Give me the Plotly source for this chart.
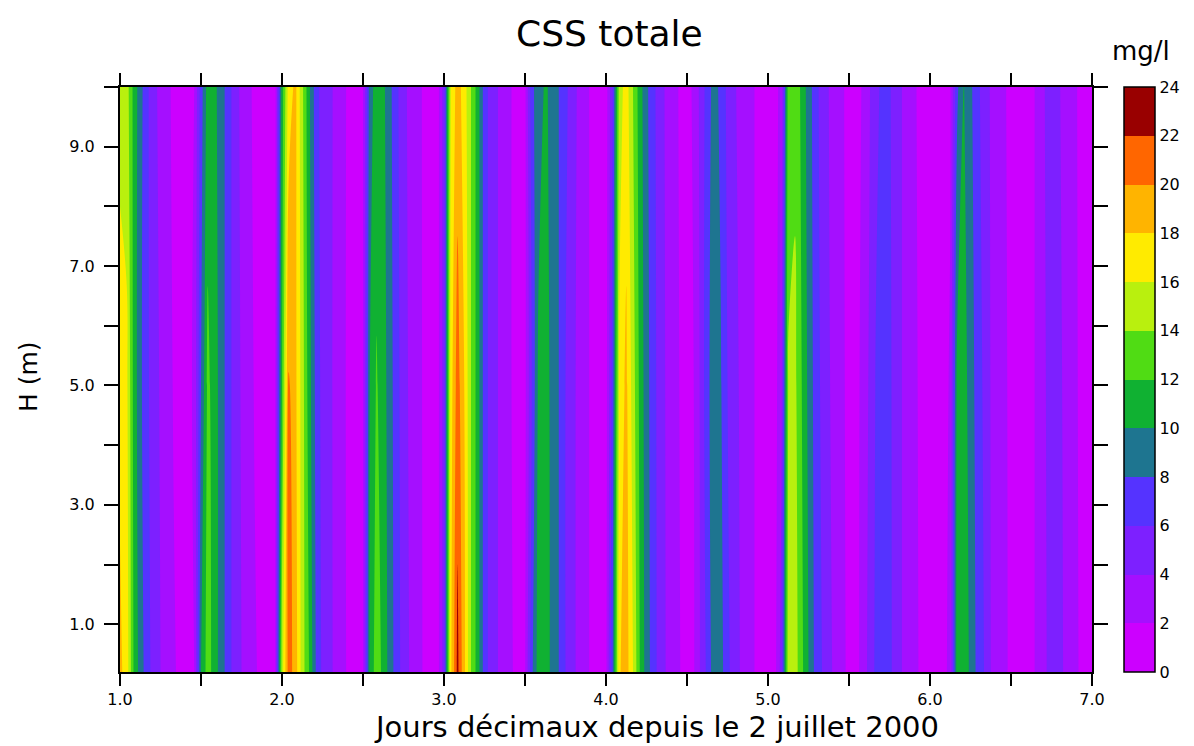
import plotly.graph_objects as go

# ---- data -------------------------------------------------------------
# hourly samples, decimal days since 2 July 2000
hours = list(range(145))
time_days = [1 + h / 24 for h in hours]
depth_m = [0.2, 5.0, 10.0]

css_bottom = (
    [18.4, 17.2, 12, 9, 7, 5, 4, 3, 2.2, 1.5, 1, 2, 10, 13, 11, 9, 7, 5, 4, 3,
     2.2, 1.5, 1, 2, 15, 21, 19, 15, 12, 8, 5.5, 4.5, 3.5, 2.5, 1.5, 1, 1.8]
    + [10.5, 13, 11.5, 9, 7, 5, 3.8, 2.8, 1.8, 1, 1, 5, 17.5, 22.6, 18.5, 14, 11, 7,
       5, 4, 3, 2.2, 1.2, 1.8, 7.5, 11, 11, 9.5, 8, 6, 4.5, 3.5, 2.5, 1.5, 1, 1.5]
    + [8, 17.8, 19, 16, 12, 9, 7, 5, 3.8, 2.7, 2, 1, 1.8, 4.2, 6.5, 9.2, 8.8, 6.5,
       5, 3.8, 2.8, 2, 1.5, 1, 1.2, 5, 15, 15, 12.5, 10, 7.5, 6, 4.5, 3.5, 2.5, 1.5]
    + [1, 3, 4.5, 6.5, 7, 6.5, 5, 3.8, 2.8, 2.2, 1.5, 1, 1, 1.5, 2.5, 11, 11.5, 9.5,
       7.5, 6, 4, 3.2, 2.5, 1.5, 1.2, 1, 1.5, 2.5, 3.8, 4.5, 4.5, 3.8, 2.8, 2, 1.5, 1]
)
css_mid = (
    [17.5, 16.5, 11.5, 8.5, 6.5, 4.8, 3.8, 2.8, 1.8, 1.2, 1, 2.5, 8, 12.5, 11, 9, 7, 5,
     3.8, 2.8, 1.8, 1.2, 1, 1.8, 12, 20.3, 18.5, 15, 11, 7.5, 5.2, 4.5, 3.4, 2.4, 1.5, 1, 1.8]
    + [10, 12.2, 11, 8.8, 6.8, 4.8, 3.6, 2.6, 1.8, 1, 1, 5, 17, 21, 18, 14, 11, 7,
       5, 4, 3, 2, 1.2, 1.5, 6, 10.5, 10.8, 9.5, 8, 6, 4.5, 3.5, 2.5, 1.5, 1, 1.2]
    + [7, 16.5, 18.5, 15, 11.5, 8.8, 6.8, 5, 3.7, 2.6, 1.9, 1, 2, 4.3, 7.5, 9, 8.2, 6,
       4.6, 3.7, 2.7, 2, 1.5, 1, 1.2, 3.5, 14.2, 14.5, 12, 9.5, 7.2, 5.5, 4.2, 3.2, 2.3, 1.5]
    + [1, 2.8, 4.2, 6.2, 6.8, 6.4, 5, 3.8, 2.8, 2.1, 1.5, 1, 1, 1.4, 2.2, 10.5, 11, 9,
       7.2, 5.6, 3.9, 3.1, 2.4, 1.5, 1.2, 1, 1.5, 2.5, 3.9, 4.5, 4.4, 3.7, 2.8, 1.9, 1.4, 1]
)
css_top = (
    [15, 15, 11.5, 8.8, 6.5, 4.5, 3.5, 2.5, 1.5, 1, 1, 2, 7, 11, 10.5, 9, 7, 5, 3.5,
     2.5, 1.5, 1, 1, 1.5, 11, 17, 18.5, 14.5, 10.5, 7, 5, 4.5, 3.5, 2.5, 1.5, 1, 2]
    + [9, 11, 10.5, 8.5, 6.5, 4.5, 3.5, 2.5, 1.8, 1, 1, 5, 16, 19, 17, 14, 11, 7,
       5, 4, 3, 2, 1, 1.5, 7.5, 9, 10.3, 9.5, 8, 6.5, 5, 3.5, 2.5, 1.5, 1, 1]
    + [6, 15, 17, 14, 11, 8.5, 6.5, 5, 3.5, 2.5, 1.8, 1, 2.5, 4.5, 7, 8.8, 7.5, 5.5,
       4.2, 3.5, 2.5, 2, 1.5, 1, 1.5, 2.5, 13, 13.5, 11.5, 9, 7, 5, 4, 3, 2.2, 1.5]
    + [1, 2.2, 3.8, 5.5, 6.5, 6.2, 5, 3.8, 2.8, 2, 1.5, 1, 1, 1.2, 1.8, 7.5, 10.1, 8.5,
       6.5, 5.2, 3.8, 3, 2.2, 1.5, 1.2, 1, 1.5, 2.5, 4, 4.5, 4.2, 3.5, 2.8, 1.8, 1.2, 1]
)
assert len(css_bottom) == len(css_mid) == len(css_top) == len(time_days)

level_colors = ["#CC00FF", "#A50FFF", "#7D20FF", "#5533FF", "#1E7590", "#10B132",
                "#50DC14", "#B9F00E", "#FFEB00", "#FFB400", "#FF6600", "#990000"]
cbar_ticks = list(range(0, 26, 2))
x_tickvals = [1 + 0.5 * i for i in range(13)]
x_ticktext = [f"{v:.1f}" if v == int(v) else "" for v in x_tickvals]
y_tickvals = list(range(1, 11))
y_ticktext = [f"{v:.1f}" if v % 2 == 1 else "" for v in y_tickvals]

# ---- figure -----------------------------------------------------------
n = len(level_colors)
colorscale = []
for i, c in enumerate(level_colors):
    colorscale.append([i / n, c])
    colorscale.append([(i + 1) / n, c])

# page body has an 8px margin, so the figure is shrunk/shifted accordingly
OFF = 8
W, H = 1194 - OFF, 746 - OFF
P_L, P_R, P_T, P_B = 120, 1092, 87, 672          # plot frame in screen pixels
pw, ph = P_R - P_L, P_B - P_T
ML, MT = P_L - OFF, P_T - OFF
MR, MB = W - ML - pw, H - MT - ph


def px(x):
    return (x - P_L) / pw


def py(y):
    return (P_B - y) / ph


cb_left, cb_right = 1124, 1155
cbx0, cbx1 = px(cb_left), px(cb_right)

tickfont = dict(family="DejaVu Sans", size=16, color="black")

fig = go.Figure(go.Contour(
    x=time_days, y=depth_m, z=[css_bottom, css_mid, css_top],
    colorscale=colorscale, zmin=0, zmax=24,
    autocontour=False,
    contours=dict(start=0, end=24, size=2, coloring="fill", showlines=False),
    line=dict(width=0),
    colorbar=dict(
        x=cbx0, xanchor="left", xpad=0, y=0, yanchor="bottom", ypad=0,
        len=1, lenmode="fraction", thickness=cb_right - cb_left, thicknessmode="pixels",
        outlinecolor="black", outlinewidth=1.5,
        tickvals=cbar_ticks, ticktext=[str(v) for v in cbar_ticks],
        ticks="", tickfont=tickfont,
    ),
    hoverinfo="x+y+z",
))

axis_common = dict(
    showline=True, linecolor="black", linewidth=2, mirror="ticks",
    ticks="outside", tickwidth=1.5, tickcolor="black",
    showgrid=False, zeroline=False, tickfont=tickfont,
)
fig.update_xaxes(range=[1, 7], tickmode="array", tickvals=x_tickvals,
                 ticktext=x_ticktext, ticklen=12, ticklabelstandoff=0, **axis_common)
fig.update_yaxes(range=[0.2, 10], tickmode="array", tickvals=y_tickvals,
                 ticktext=y_ticktext, ticklen=14, ticklabelstandoff=6, **axis_common)

shapes = []
for k in range(1, n):
    shapes.append(dict(type="line", xref="paper", yref="paper",
                       x0=cbx0, x1=cbx1, y0=k / n, y1=k / n,
                       line=dict(color="black", width=1.2)))

fig.update_layout(
    width=W, height=H,
    margin=dict(l=ML, r=MR, t=MT, b=MB, autoexpand=False),
    paper_bgcolor="white", plot_bgcolor="white",
    shapes=shapes,
    font=dict(family="DejaVu Sans", color="black"),
    annotations=[
        dict(text="CSS totale", xref="paper", yref="paper", x=px(609), y=py(33),
             xanchor="center", yanchor="middle", showarrow=False, font=dict(size=36)),
        dict(text="Jours décimaux depuis le 2 juillet 2000", xref="paper", yref="paper",
             x=px(656), y=py(727), xanchor="center", yanchor="middle",
             showarrow=False, font=dict(size=29)),
        dict(text="H (m)", xref="paper", yref="paper", x=px(28), y=py(377),
             xanchor="center", yanchor="middle", textangle=-90, showarrow=False,
             font=dict(size=25)),
        dict(text="mg/l", xref="paper", yref="paper", x=px(1141), y=py(51),
             xanchor="center", yanchor="middle", showarrow=False, font=dict(size=26)),
    ],
)

fig.write_html("out.html")
